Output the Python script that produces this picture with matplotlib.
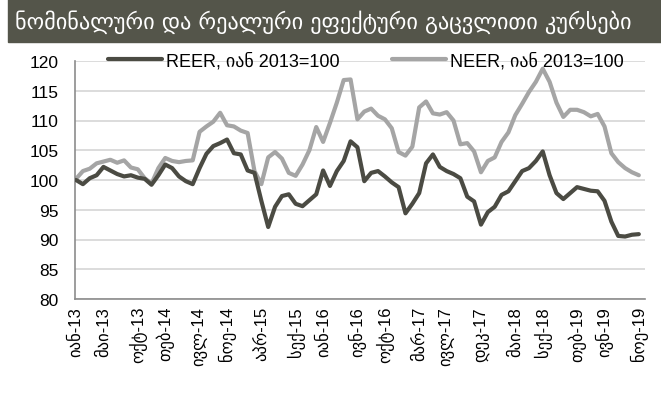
import numpy as np
import matplotlib
matplotlib.use("Agg")
import matplotlib.pyplot as plt
from matplotlib.patches import Rectangle

plt.rcParams["font.family"] = ["Liberation Sans", "DejaVu Sans"]

TITLE = "ნომინალური და რეალური ეფექტური გაცვლითი კურსები"

# monthly series, Jan 2013 .. Nov 2019
reer = [100.0, 99.3, 100.3, 100.8, 102.2, 101.6, 101.0, 100.6, 100.8, 100.4,
        100.2, 99.2, 100.8, 102.6, 102.0, 100.6, 99.8, 99.3, 102.0, 104.4,
        105.7, 106.2, 106.8, 104.5, 104.3, 101.6, 101.2, 96.5, 92.1, 95.5,
        97.3, 97.6, 96.0, 95.6, 96.6, 97.6, 101.6, 99.0, 101.5, 103.2,
        106.5, 105.5, 99.8, 101.2, 101.5, 100.6, 99.6, 98.8, 94.4, 96.0,
        97.8, 102.8, 104.3, 102.2, 101.5, 101.0, 100.3, 97.2, 96.4, 92.5,
        94.6, 95.5, 97.5, 98.1, 99.8, 101.5, 102.0, 103.2, 104.8, 100.8,
        97.8, 96.8, 97.8, 98.8, 98.5, 98.2, 98.1, 96.5, 93.0, 90.6,
        90.5, 90.8, 90.9]
neer = [100.2, 101.5, 101.9, 102.8, 103.1, 103.4, 102.9, 103.3, 102.1, 101.8,
        100.3, 99.4, 102.0, 103.7, 103.2, 103.0, 103.2, 103.3, 108.1, 109.0,
        109.8, 111.3, 109.2, 109.0, 108.3, 107.9, 101.5, 99.3, 103.8, 104.7,
        103.6, 101.2, 100.7, 102.6, 105.0, 108.9, 106.4, 109.6, 113.0, 116.8,
        116.9, 110.2, 111.5, 112.0, 110.8, 110.2, 108.7, 104.7, 104.1, 105.6,
        112.2, 113.2, 111.2, 111.0, 111.4, 110.0, 106.0, 106.2, 104.8, 101.3,
        103.2, 103.8, 106.4, 108.0, 110.9, 112.8, 114.8, 116.5, 118.7, 116.5,
        113.0, 110.6, 111.8, 111.8, 111.4, 110.7, 111.1, 109.0, 104.5, 103.0,
        102.0, 101.3, 100.8]

months_ka = ["იან", "თებ", "მარ", "აპრ", "მაი", "ივნ",
             "ივლ", "აგვ", "სექ", "ოქტ", "ნოე", "დეკ"]
tick_idx = [0, 4, 9, 13, 18, 22, 27, 32, 36, 41, 45, 50, 54, 59, 64, 68, 73, 77, 82]
tick_lbl = ["{}-{}".format(months_ka[i % 12], 13 + i // 12) for i in tick_idx]

x = np.arange(len(reer))

fig = plt.figure(figsize=(6.61, 4.06), dpi=100)

# title banner
fig.patches.append(Rectangle((8 / 661, 1 - 43 / 406), 1 - 8 / 661, 43 / 406,
                             transform=fig.transFigure, color="#54554A", zorder=0))
fig.text(15 / 661, 1 - 22 / 406, TITLE, color="white", fontsize=16,
         va="center", ha="left", family=["DejaVu Sans"])

ax = fig.add_axes([75 / 661, 1 - 300 / 406, 570 / 661, 238 / 406])
ax.plot(x, reer, color="#4B4B43", lw=3, label="REER, იან 2013=100",
        solid_joinstyle="round", solid_capstyle="round", zorder=3)
ax.plot(x, neer, color="#A5A5A5", lw=3, label="NEER, იან 2013=100",
        solid_joinstyle="round", solid_capstyle="round", zorder=2)

ax.set_ylim(80, 120)
ax.set_yticks(np.arange(80, 121, 5))
ax.set_xlim(-0.15, 82.9)
ax.set_xticks(tick_idx)
ax.set_xticklabels(tick_lbl, rotation=90, fontsize=12)
ax.tick_params(axis="y", labelsize=12.5, length=0, pad=12)
ax.tick_params(axis="x", length=0, pad=5)
ax.grid(axis="y", color="#D9D9D9", lw=1.3)
ax.set_axisbelow(True)
for s in ["top", "right"]:
    ax.spines[s].set_visible(False)
ax.spines["left"].set_color("#8C8C8C")
ax.spines["bottom"].set_color("#8C8C8C")
ax.spines["left"].set_linewidth(1.2)
ax.spines["bottom"].set_linewidth(1.2)

ax.legend(loc="center", bbox_to_anchor=(0.51, 1.0), ncol=2, frameon=False,
          fontsize=13, handlelength=3.0, columnspacing=2.9, handletextpad=0.2,
          borderpad=0)

fig.savefig("out.png", dpi=100)
